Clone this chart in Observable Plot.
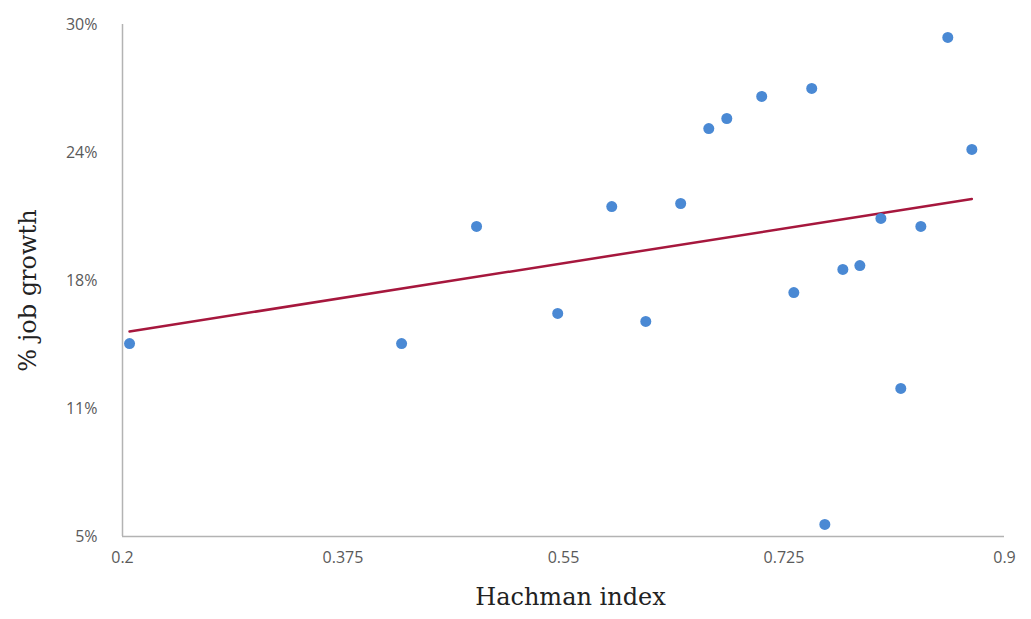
<!DOCTYPE html>
<html>
<head>
<meta charset="utf-8">
<script src="https://cdn.jsdelivr.net/npm/d3@7"></script>
<script src="https://cdn.jsdelivr.net/npm/@observablehq/plot@0.6"></script>
<style>
  html, body { margin: 0; padding: 0; background: #fff; }
  #chart svg { display: block; }
</style>
</head>
<body>
<div id="chart"></div>
<script>
const hachman = [0.2056, 0.4215, 0.481, 0.5454, 0.5883, 0.6153, 0.643, 0.6653, 0.6796, 0.7073, 0.747, 0.7328, 0.7574, 0.7717, 0.7852, 0.8019, 0.8177, 0.8336, 0.855, 0.8741];
const jobGrowth = [14.42, 14.42, 20.14, 15.89, 21.11, 15.50, 21.26, 24.92, 25.41, 26.49, 26.88, 16.91, 5.59, 18.04, 18.23, 20.53, 12.23, 20.14, 29.37, 23.90];
const xTicks = [0.2, 0.375, 0.55, 0.725, 0.9];
const yTicks = [5, 11.25, 17.5, 23.75, 30];
const yTickLabels = ["5%", "11%", "18%", "24%", "30%"];
const xTitle = "Hachman index";
const yTitle = "% job growth";

const data = hachman.map((x, i) => ({x, y: jobGrowth[i]}));

const sans = "'Open Sans', sans-serif";
const serif = "'DejaVu Serif', serif";

const chart = Plot.plot({
  width: 1031,
  height: 619,
  marginLeft: 122,
  marginRight: 27,
  marginTop: 24,
  marginBottom: 83,
  style: {fontFamily: sans, background: "#fff"},
  x: {domain: [0.2, 0.9]},
  y: {domain: [5, 30]},
  marks: [
    Plot.axisX({ticks: xTicks, tickSize: 0, tickPadding: 15, tickFormat: d => String(d), fontSize: 16, fill: "#5a5a5a", label: null}),
    Plot.axisY({ticks: yTicks, tickSize: 0, tickPadding: 25, tickFormat: d => yTickLabels[yTicks.indexOf(d)], fontSize: 16, fill: "#5a5a5a", label: null}),
    Plot.ruleX([0.2], {stroke: "#b3b3b3", strokeWidth: 1.5}),
    Plot.ruleY([5], {stroke: "#b3b3b3", strokeWidth: 1.5}),
    Plot.linearRegressionY(data, {x: "x", y: "y", stroke: "#a6173d", strokeWidth: 2.5, ci: 0}),
    Plot.dot(data, {x: "x", y: "y", r: 5.5, fill: "#4a89d4", stroke: "none"}),
    Plot.text([xTitle], {frameAnchor: "bottom", textAnchor: "middle", dx: 7, dy: 68, fontSize: 24, fontFamily: serif, fill: "#222"}),
    Plot.text([yTitle], {frameAnchor: "left", textAnchor: "middle", dx: -94, dy: 10, rotate: -90, fontSize: 24, fontFamily: serif, fill: "#222"})
  ]
});
document.getElementById("chart").appendChild(chart);
</script>
</body>
</html>
